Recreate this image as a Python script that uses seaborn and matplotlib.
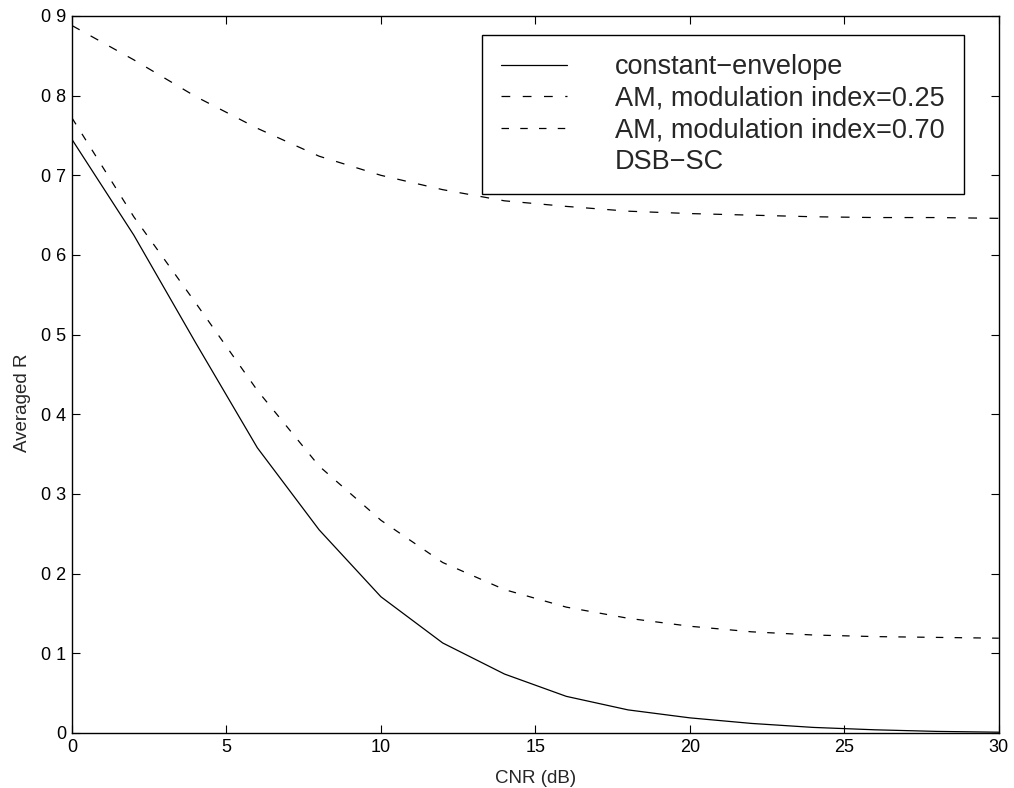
import pandas as pd
import matplotlib.pyplot as plt
import seaborn as sns
from matplotlib.lines import Line2D

# === Values ===
cnr_db = [0, 2, 4, 6, 8, 10, 12, 14, 16, 18, 20, 22, 24, 26, 28, 30]
r_constant = [0.745, 0.625, 0.49, 0.358, 0.255, 0.171, 0.113, 0.074, 0.046, 0.029,
              0.019, 0.012, 0.007, 0.004, 0.002, 0.001]
r_am_025 = [0.888, 0.845, 0.799, 0.759, 0.724, 0.700, 0.682, 0.668, 0.661, 0.655,
            0.652, 0.650, 0.648, 0.647, 0.647, 0.646]
r_am_070 = [0.772, 0.648, 0.54, 0.43, 0.335, 0.267, 0.214, 0.18, 0.158, 0.144,
            0.134, 0.127, 0.123, 0.121, 0.120, 0.119]

labels = ['constant\u2212envelope', 'AM, modulation index=0.25',
          'AM, modulation index=0.70', 'DSB\u2212SC']
x_ticks = [0, 5, 10, 15, 20, 25, 30]
y_ticks = [0, 0.1, 0.2, 0.3, 0.4, 0.5, 0.6, 0.7, 0.8, 0.9]
y_ticklabels = ['0', '0 1', '0 2', '0 3', '0 4', '0 5', '0 6', '0 7', '0 8', '0 9']

df = pd.DataFrame({'CNR': cnr_db, 'const': r_constant, 'am25': r_am_025, 'am70': r_am_070})

# === Style (MATLAB-like) ===
sns.set_style("ticks")
plt.rcParams['font.family'] = ['Liberation Sans', 'DejaVu Sans']
plt.rcParams['xtick.direction'] = 'in'
plt.rcParams['ytick.direction'] = 'in'
plt.rcParams['xtick.top'] = True
plt.rcParams['ytick.right'] = True

fig = plt.figure(figsize=(10.14, 7.88), dpi=100)
ax = fig.add_axes([0.071, 0.0698, 0.914, 0.9099])

sns.lineplot(data=df, x='CNR', y='const', ax=ax, color='black', linewidth=0.9)
sns.lineplot(data=df, x='CNR', y='am25', ax=ax, color='black', linewidth=0.9)
sns.lineplot(data=df, x='CNR', y='am70', ax=ax, color='black', linewidth=0.9)
ax.lines[1].set_dashes((7, 10))
ax.lines[2].set_dashes((6, 9))

ax.set_xlim(0, 30)
ax.set_ylim(0, 0.9)
ax.set_xticks(x_ticks)
ax.set_yticks(y_ticks)
ax.set_yticklabels(y_ticklabels)
ax.tick_params(labelsize=13, length=6, width=0.8, colors='black', pad=4)
for s in ax.spines.values():
    s.set_color('black')
    s.set_linewidth(1.0)

ax.set_xlabel('CNR (dB)', fontsize=13.5)
ax.set_ylabel('Averaged R', fontsize=13.5)
ax.xaxis.set_label_coords(0.5, -0.052)
ax.yaxis.set_label_coords(-0.044, 0.46)

# === Legend ===
handles = [Line2D([], [], color='black', linewidth=0.9),
           Line2D([], [], color='black', linewidth=0.9, dashes=(7, 10)),
           Line2D([], [], color='black', linewidth=0.9, dashes=(6, 9)),
           Line2D([], [], color='none')]
leg = ax.legend(handles, labels, loc='upper left', bbox_to_anchor=(0.442, 0.9735),
                fontsize=19.5, frameon=True, fancybox=False, framealpha=1,
                edgecolor='black', borderpad=0.72, borderaxespad=0,
                handlelength=2.45, handletextpad=1.75, labelspacing=0.2)
leg.get_frame().set_linewidth(1.0)

plt.savefig('out.png', dpi=100)
